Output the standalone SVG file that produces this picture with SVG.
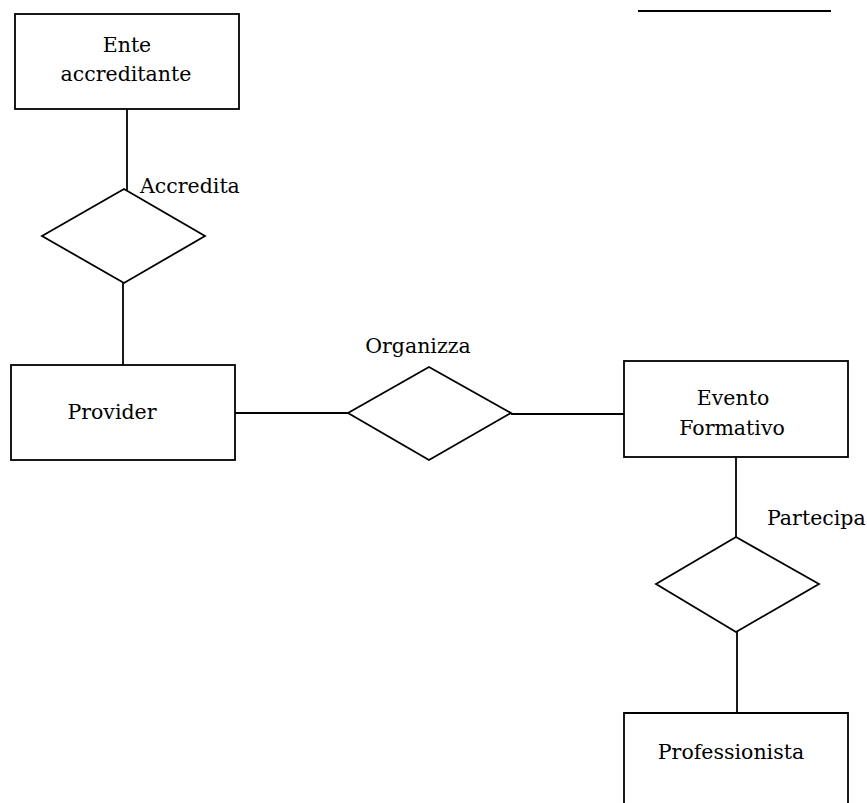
<svg xmlns="http://www.w3.org/2000/svg" width="867" height="803" viewBox="0 0 867 803">
<style>
.s{fill:#fff;stroke:#000;stroke-width:1.8}
.c{fill:none;stroke:#000;stroke-width:1.8}
text{font-family:"DejaVu Serif","Liberation Serif",serif;font-size:20.5px;fill:#000}
.m{text-anchor:middle}
</style>
<rect width="867" height="803" fill="#fff"/>
<line x1="638" y1="11" x2="831" y2="11" stroke="#000" stroke-width="2.2"/>
<g id="connectors">
<line class="c" x1="127" y1="109" x2="127" y2="190"/>
<line class="c" x1="123" y1="283" x2="123" y2="365"/>
<line class="c" x1="235" y1="413" x2="348" y2="413"/>
<line class="c" x1="511" y1="414" x2="624" y2="414"/>
<line class="c" x1="736" y1="457" x2="736" y2="537"/>
<line class="c" x1="737" y1="632" x2="737" y2="713"/>
</g>
<g id="ente">
<rect class="s" x="15" y="14" width="224" height="95"/>
<text class="m" x="127" y="52">Ente</text>
<text class="m" x="126" y="81">accreditante</text>
</g>
<g id="accredita">
<polygon class="s" points="124,189 205,236 124,283 42,236"/>
<text x="140" y="193">Accredita</text>
</g>
<g id="provider">
<rect class="s" x="11" y="365" width="224" height="95"/>
<text class="m" x="112" y="419">Provider</text>
</g>
<g id="organizza">
<polygon class="s" points="429,367 511,413 429,460 348,413"/>
<text class="m" x="418" y="353">Organizza</text>
</g>
<g id="evento">
<rect class="s" x="624" y="361" width="224" height="96"/>
<text class="m" x="733" y="405">Evento</text>
<text class="m" x="732" y="435">Formativo</text>
</g>
<g id="partecipa">
<polygon class="s" points="736,537 819,584 736,632 656,584"/>
<text x="767" y="525">Partecipa</text>
</g>
<g id="professionista">
<polyline class="c" points="624,810 624,713 848,713 848,810"/>
<text class="m" x="731" y="759">Professionista</text>
</g>
</svg>
